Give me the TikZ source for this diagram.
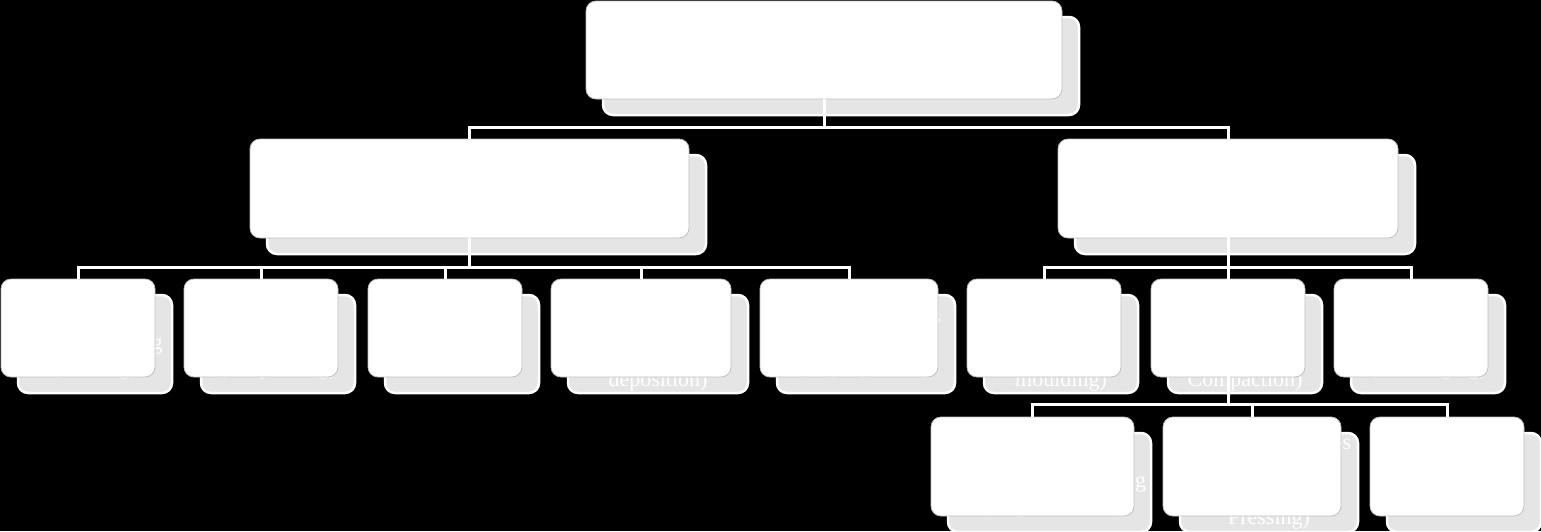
\documentclass[tikz,border=0pt]{standalone}
\usepackage{fontspec}
\setmainfont{Liberation Serif}
\tikzset{
  frontbox/.style={rectangle, rounded corners=10pt, fill=white, draw=black!25, line width=0.8pt, inner sep=0pt},
  shadowbox/.style={rectangle, rounded corners=10pt, fill=black!10, draw=white, line width=2.5pt, inner sep=0pt},
  txt/.style={text=white, align=center, font=\fontsize{22}{25}\selectfont, inner sep=0pt},
  conn/.style={draw=white, line width=3pt},
}
\newcommand\treebox[6]{%
  \node[shadowbox, minimum width=#4pt, minimum height=#5pt] (#1-s) at ({#2+17},{#3+16}) {};
  \node[txt] (#1-t) at (#1-s.center) {#6};
  \node[frontbox, minimum width=#4pt, minimum height=#5pt] (#1) at (#2,#3) {};
}
\begin{document}
\begin{tikzpicture}[x=1pt,y=-1pt]
\useasboundingbox (0,0) rectangle (1541,531);
\fill[black] (0,0) rectangle (1541,531);
% level 0
\treebox{top}{824}{50}{476}{98}{Metal Manufacturing Processes}
% level 1
\treebox{am}{469.5}{188.5}{439}{99}{Additive Manufacturing}
\treebox{pm}{1228}{188.5}{340}{99}{Powder Metallurgy}
% level 2
\treebox{c1}{78}{328}{154}{98}{Selective\\Laser Sintering\\(Melting)}
\treebox{c2}{261}{328}{154}{98}{Binder\\Jetting\\(3D printing)}
\treebox{c3}{445}{328}{154}{98}{Material\\Extrusion}
\treebox{c4}{641}{328}{180}{98}{DED\\(Directed\\energy\\deposition)}
\treebox{c5}{849}{328}{178}{98}{Jetting Processes\\Material Jetting\\(Inkjet printing)}
\treebox{c6}{1044}{328}{154}{98}{MIM\\(Metal\\injection\\moulding)}
\treebox{c7}{1228}{328}{154}{98}{Press and\\Sinter\\(Powder\\Compaction)}
\treebox{c8}{1411}{328}{154}{98}{Powder\\Forging\\(Hot forging)}
% level 3
\treebox{d1}{1032.5}{466.5}{203}{99}{Die Compaction\\Uniaxial Die Pressing\\(Single/Double)}
\treebox{d2}{1252}{466.5}{178}{99}{Isostatic Processes\\CIP\\(Cold Isostatic\\Pressing)}
\treebox{d3}{1447}{466.5}{154}{99}{Roll\\Compaction}
% bus levels
\coordinate (bus1) at (0,127);
\coordinate (bus2) at (0,267);
\coordinate (bus3) at (0,404);
% connectors
\foreach \c in {am,pm}
  \draw[conn] (top.south) -- (top.south |- bus1) -| (\c.north);
\foreach \c in {c1,c2,c3,c4,c5}
  \draw[conn] (am.south) -- (am.south |- bus2) -| (\c.north);
\foreach \c in {c6,c7,c8}
  \draw[conn] (pm.north) -- (pm.north |- bus2) -| (\c.north);
\foreach \c in {d1,d2,d3}
  \draw[conn] (c7.north) -- (c7.north |- bus3) -| (\c.north);
\end{tikzpicture}
\end{document}
